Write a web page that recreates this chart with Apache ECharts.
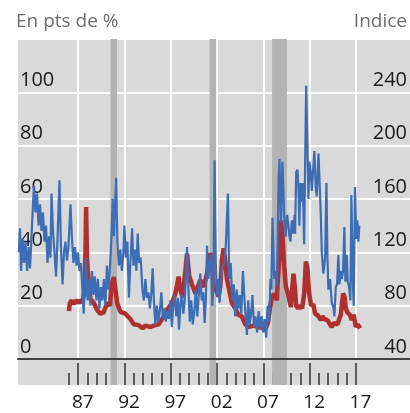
<!DOCTYPE html>
<html>
<head>
<meta charset="utf-8">
<script src="https://cdn.jsdelivr.net/npm/echarts@6/dist/echarts.min.js"></script>
<style>
  html, body { margin: 0; padding: 0; background: #fff; }
  #chart { width: 410px; height: 413px; }
</style>
</head>
<body>
<div id="chart"></div>
<script>
// blue line: index (right axis), decimal years
const blueYears = [
  1980.59, 1980.72, 1980.83, 1980.99, 1981.15, 1981.31, 1981.48, 1981.64, 1981.80, 1981.96,
  1982.12, 1982.23, 1982.39, 1982.56, 1982.72, 1982.88, 1983.04, 1983.20, 1983.36, 1983.53,
  1983.69, 1983.85, 1984.01, 1984.12, 1984.28, 1984.44, 1984.61, 1984.77, 1984.98, 1985.14,
  1985.31, 1985.47, 1985.63, 1985.79, 1985.95, 1986.17, 1986.33, 1986.49, 1986.65, 1986.82,
  1986.98, 1987.14, 1987.30, 1987.46, 1987.60, 1987.73, 1987.86, 1988.00, 1988.17, 1988.33,
  1988.49, 1988.65, 1988.81, 1988.97, 1989.14, 1989.30, 1989.46, 1989.62, 1989.78, 1989.94,
  1990.11, 1990.27, 1990.43, 1990.59, 1990.73, 1990.86, 1991.10, 1991.24, 1991.40, 1991.56,
  1991.72, 1991.89, 1991.99, 1992.16, 1992.32, 1992.48, 1992.64, 1992.83, 1992.97, 1993.13,
  1993.29, 1993.43, 1993.59, 1993.75, 1993.94, 1994.10, 1994.26, 1994.42, 1994.58, 1994.75,
  1994.91, 1995.05, 1995.18, 1995.34, 1995.50, 1995.66, 1995.82, 1995.99, 1996.15, 1996.31,
  1996.47, 1996.63, 1996.80, 1996.96, 1997.12, 1997.28, 1997.44, 1997.60, 1997.77, 1997.89,
  1998.04, 1998.20, 1998.36, 1998.52, 1998.76, 1998.90, 1999.06, 1999.22, 1999.38, 1999.55,
  1999.71, 1999.87, 2000.03, 2000.19, 2000.35, 2000.52, 2000.66, 2000.79, 2000.92, 2001.06,
  2001.20, 2001.35, 2001.49, 2001.62, 2001.74, 2001.87, 2002.01, 2002.13, 2002.28, 2002.44,
  2002.60, 2002.78, 2002.94, 2003.18, 2003.32, 2003.48, 2003.64, 2003.81, 2003.97, 2004.13,
  2004.29, 2004.45, 2004.62, 2004.80, 2004.97, 2005.23, 2005.37, 2005.53, 2005.70, 2005.83,
  2006.00, 2006.16, 2006.34, 2006.50, 2006.67, 2006.83, 2006.99, 2007.15, 2007.31, 2007.47,
  2007.64, 2007.77, 2007.87, 2007.99, 2008.18, 2008.34, 2008.47, 2008.66, 2008.75, 2008.90,
  2009.07, 2009.25, 2009.42, 2009.58, 2009.72, 2009.83, 2009.93, 2010.09, 2010.26, 2010.37,
  2010.44, 2010.55, 2010.69, 2010.80, 2010.90, 2011.01, 2011.16, 2011.27, 2011.41, 2011.63,
  2011.77, 2011.88, 2011.98, 2012.13, 2012.24, 2012.35, 2012.52, 2012.67, 2012.78, 2012.96,
  2013.11, 2013.21, 2013.32, 2013.49, 2013.68, 2013.82, 2013.93, 2014.03, 2014.22, 2014.40,
  2014.57, 2014.68, 2014.83, 2014.97, 2015.11, 2015.22, 2015.37, 2015.48, 2015.62, 2015.76,
  2015.87, 2016.02, 2016.13, 2016.27, 2016.41, 2016.52, 2016.67, 2016.77, 2016.91, 2017.05,
  2017.16, 2017.27, 2017.38
];
const blueIndex = [
  120, 138, 106, 130, 112, 128, 106, 124, 108, 132,
  156, 170, 150, 164, 140, 156, 136, 150, 128, 140,
  112, 132, 116, 164, 136, 120, 102, 130, 174, 124,
  96, 120, 128, 114, 124, 156, 130, 112, 124, 110,
  120, 106, 112, 92, 74, 100, 116, 84, 100, 80,
  106, 88, 102, 84, 100, 78, 94, 84, 100, 80,
  110, 92, 108, 130, 160, 132, 176, 128, 110, 122,
  106, 120, 140, 116, 128, 86, 112, 138, 110, 122,
  106, 134, 112, 116, 92, 84, 100, 86, 90, 78,
  90, 108, 84, 66, 80, 68, 76, 90, 70, 78,
  68, 76, 70, 84, 64, 80, 88, 72, 86, 62,
  80, 88, 74, 84, 124, 96, 68, 84, 66, 76,
  92, 72, 88, 104, 84, 90, 67, 84, 125, 100,
  112, 118, 80, 100, 189, 112, 88, 100, 82, 100,
  110, 112, 124, 164, 100, 112, 84, 96, 72, 92,
  78, 88, 74, 106, 84, 58, 84, 66, 76, 88,
  64, 72, 60, 76, 64, 72, 60, 70, 56, 80,
  68, 100, 92, 146, 100, 106, 94, 176, 190, 142,
  188, 148, 132, 148, 140, 132, 128, 144, 134, 148,
  134, 180, 182, 168, 140, 172, 158, 172, 126, 245,
  200, 160, 188, 180, 166, 178, 196, 168, 162, 194,
  168, 148, 120, 104, 116, 172, 116, 92, 100, 82,
  79, 72, 94, 96, 118, 96, 106, 100, 106, 139,
  98, 118, 98, 94, 84, 163, 98, 80, 169, 130,
  144, 128, 140
];

// red line: spread in pts de % (left axis)
const redYears = [
  1986.00, 1986.10, 1986.30, 1986.50, 1986.70, 1986.95, 1987.15, 1987.35, 1987.55, 1987.70,
  1987.80, 1987.86, 1987.95, 1988.04, 1988.20, 1988.33, 1988.69, 1989.05, 1989.40, 1989.76,
  1990.13, 1990.45, 1990.60, 1990.75, 1990.85, 1991.03, 1991.21, 1991.56, 1992.10, 1992.64,
  1993.00, 1993.54, 1993.97, 1994.26, 1994.80, 1995.16, 1995.70, 1996.24, 1996.60, 1997.14,
  1997.50, 1997.86, 1998.04, 1998.29, 1998.58, 1998.76, 1999.00, 1999.29, 1999.68, 2000.19,
  2000.55, 2000.92, 2001.27, 2001.45, 2001.63, 2001.89, 2002.17, 2002.35, 2002.53, 2002.71,
  2002.89, 2003.07, 2003.25, 2003.61, 2003.97, 2004.32, 2004.69, 2005.05, 2005.40, 2005.94,
  2006.48, 2006.85, 2007.20, 2007.50, 2007.74, 2007.99, 2008.28, 2008.47, 2008.54, 2008.72,
  2008.90, 2009.07, 2009.26, 2009.44, 2009.62, 2009.80, 2009.98, 2010.15, 2010.26, 2010.41,
  2010.55, 2010.77, 2010.99, 2011.20, 2011.42, 2011.60, 2011.78, 2011.94, 2012.16, 2012.41,
  2012.59, 2012.86, 2013.22, 2013.39, 2013.58, 2013.94, 2014.12, 2014.38, 2014.66, 2015.02,
  2015.20, 2015.37, 2015.62, 2015.80, 2015.91, 2016.08, 2016.37, 2016.56, 2016.77, 2016.99,
  2017.20, 2017.45
];
const redSpread = [
  18, 21, 22, 20.5, 22, 21, 22, 21, 23, 26,
  42, 57, 38, 33, 26, 22.5, 21, 18.4, 17, 17.5,
  21, 20, 28, 29.6, 30.7, 26, 21, 17.7, 17, 15,
  13, 12.7, 11.5, 12.5, 12, 12.5, 13, 15.9, 18.4, 21,
  24.6, 30.9, 26, 23, 33, 39.6, 31, 28, 24.5, 29.6,
  27, 32, 39.7, 36, 27, 26, 23.4, 27, 37, 41.5,
  37, 30, 27, 20.9, 19, 16.5, 16, 13, 12, 12.5,
  12, 11.7, 11, 13.5, 19.6, 24, 24, 22, 28, 37,
  52, 46, 34.6, 27, 25, 22.5, 19.5, 27.5, 32, 27,
  20, 19, 20, 19, 24.6, 36.5, 34, 25, 20, 20.5,
  17, 16.5, 14.6, 16, 15, 14.6, 13.5, 12, 13.5, 13,
  15, 16.6, 24.6, 23, 19, 17.5, 16.5, 14.6, 16.6, 12,
  13, 11.5
];

// recessions (shaded)
const recessions = [[1990.5, 1991.2], [2001.2, 2001.9], [2007.95, 2009.55]];

const majorYears = [1987, 1992, 1997, 2002, 2007, 2012, 2017];
const yearLabels = ['87', '92', '97', '02', '07', '12', '17'];
const minorYears = [];
for (let y = 1986; y <= 2016; y++) minorYears.push(y);

const X_MIN = 1980.5;
const X_MAX = 2022.85;

const font = 'Open Sans';
const bands = recessions.map(r => [{ xAxis: r[0] }, { xAxis: r[1] }]);

const chart = echarts.init(document.getElementById('chart'));

const option = {
  animation: false,
  title: [
    {
      text: 'En pts de %', left: 16, top: 12, padding: 0,
      textStyle: { fontFamily: font, fontSize: 19, fontWeight: 'normal', color: '#6d6d6d' }
    },
    {
      text: 'Indice', right: 3, top: 12, padding: 0,
      textStyle: { fontFamily: font, fontSize: 19, fontWeight: 'normal', color: '#6d6d6d' }
    }
  ],
  grid: [
    { left: 18, right: 0, top: 39, height: 320, show: true, backgroundColor: '#d9d9d9', borderWidth: 0 },
    { left: 18, right: 0, top: 359, height: 26, show: true, backgroundColor: '#d9d9d9', borderWidth: 0 }
  ],
  xAxis: [
    {
      gridIndex: 0, type: 'value', min: X_MIN, max: X_MAX,
      axisLine: { show: false },
      axisTick: { show: false, customValues: majorYears },
      axisLabel: { show: false, customValues: majorYears },
      splitLine: { show: true, lineStyle: { color: '#ffffff', width: 2 } }
    },
    {
      gridIndex: 1, type: 'value', min: X_MIN, max: X_MAX, position: 'bottom',
      axisLine: { show: false },
      axisTick: { inside: true, length: 22, customValues: majorYears, lineStyle: { color: '#333333', width: 1.5 } },
      axisLabel: {
        customValues: majorYears.map(y => y + 0.5),
        formatter: v => yearLabels[majorYears.indexOf(Math.round(v - 0.5))],
        fontFamily: font, fontSize: 19, color: '#1a1a1a', margin: 8
      },
      splitLine: { show: false }
    },
    {
      gridIndex: 1, type: 'value', min: X_MIN, max: X_MAX, position: 'bottom', offset: 0,
      axisLine: { show: false },
      axisTick: { inside: true, length: 12, customValues: minorYears, lineStyle: { color: '#333333', width: 1.5 } },
      axisLabel: { show: false, customValues: minorYears },
      splitLine: { show: false }
    },
    {
      gridIndex: 1, type: 'value', min: X_MIN, max: X_MAX, position: 'top', z: 10,
      axisLine: { show: true, lineStyle: { color: '#404040', width: 2 } },
      axisTick: { show: false },
      axisLabel: { show: false },
      splitLine: { show: false }
    }
  ],
  yAxis: [
    {
      gridIndex: 0, type: 'value', min: 0, max: 120, interval: 20, position: 'left',
      axisLine: { show: false }, axisTick: { show: false },
      axisLabel: {
        inside: true, margin: 2, verticalAlign: 'bottom', padding: [0, 0, 2, 0],
        fontFamily: font, fontSize: 20, color: '#1a1a1a',
        formatter: v => (v >= 120 ? '' : String(v))
      },
      splitLine: { show: true, lineStyle: { color: '#ffffff', width: 2 } }
    },
    {
      gridIndex: 0, type: 'value', min: 40, max: 280, interval: 40, position: 'right',
      axisLine: { show: false }, axisTick: { show: false },
      axisLabel: {
        inside: true, margin: 3, verticalAlign: 'bottom', padding: [0, 0, 2, 0],
        fontFamily: font, fontSize: 20, color: '#1a1a1a',
        formatter: v => (v >= 280 ? '' : String(v))
      },
      splitLine: { show: false }
    },
    { gridIndex: 1, type: 'value', min: 0, max: 1, show: false }
  ],
  series: [
    {
      name: 'bands-strip', type: 'line', xAxisIndex: 1, yAxisIndex: 2,
      data: [[X_MIN, 0.5]], showSymbol: false, lineStyle: { opacity: 0 }, silent: true,
      markArea: { silent: true, itemStyle: { color: '#b3b3b3' }, data: bands }
    },
    {
      name: 'spread', type: 'line', xAxisIndex: 0, yAxisIndex: 0,
      data: redYears.map((y, i) => [y, redSpread[i]]),
      showSymbol: false, lineStyle: { color: '#b03030', width: 4.5 }, z: 2,
      markArea: { silent: true, itemStyle: { color: '#b3b3b3' }, data: bands }
    },
    {
      name: 'indice', type: 'line', xAxisIndex: 0, yAxisIndex: 1,
      data: blueYears.map((y, i) => [y, blueIndex[i]]),
      showSymbol: false, lineStyle: { color: '#3d6db5', width: 2.2 }, z: 3
    }
  ]
};

chart.setOption(option);
</script>
</body>
</html>
